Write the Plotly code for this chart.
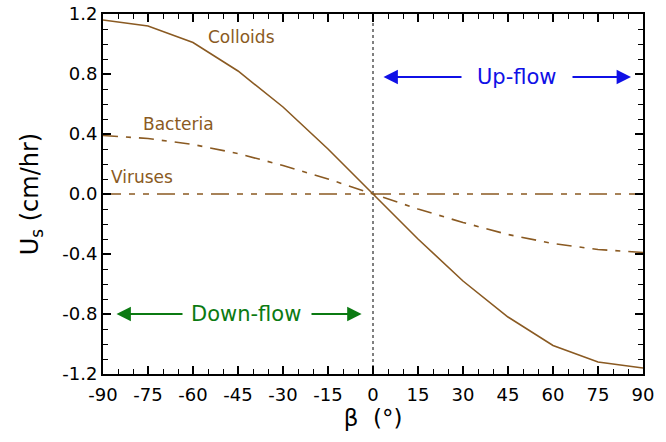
import plotly.graph_objects as go

beta = [-90, -75, -60, -45, -30, -15, 0, 15, 30, 45, 60, 75, 90]
colloids = [1.16, 1.12, 1.01, 0.82, 0.58, 0.30, 0.0, -0.30, -0.58, -0.82, -1.01, -1.12, -1.16]
bacteria = [0.39, 0.37, 0.33, 0.27, 0.19, 0.10, 0.0, -0.10, -0.19, -0.27, -0.33, -0.37, -0.39]
viruses = [0.0] * 13

x_ticks = list(range(-90, 91, 15))
x_tick_labels = [str(v) for v in x_ticks]
y_ticks = [-1.2, -0.8, -0.4, 0.0, 0.4, 0.8, 1.2]
y_tick_labels = ["-1.2", "-0.8", "-0.4", "0.0", "0.4", "0.8", "1.2"]

BROWN = "#8a5a22"
BLUE = "#1010e6"
GREEN = "#0b7a12"
FONT = "DejaVu Sans"

fig = go.Figure()
fig.add_trace(go.Scatter(x=beta, y=colloids, mode="lines",
                         line=dict(color=BROWN, width=1.6), showlegend=False))
fig.add_trace(go.Scatter(x=beta, y=bacteria, mode="lines",
                         line=dict(color=BROWN, width=1.6, dash="15px,8px,5px,8px"), showlegend=False))
fig.add_trace(go.Scatter(x=beta, y=viruses, mode="lines",
                         line=dict(color=BROWN, width=1.6, dash="18px,8px,6px,8px,6px,8px"), showlegend=False))

fig.add_shape(type="line", x0=0, x1=0, y0=-1.2, y1=1.2, xref="x", yref="y",
              line=dict(color="black", width=1, dash="dot"), layer="below")

anns = []
for txt, xx, yy in [("Colloids", -44, 1.05), ("Bacteria", -65, 0.47), ("Viruses", -77, 0.115)]:
    anns.append(dict(x=xx, y=yy, text=txt, showarrow=False, xref="x", yref="y",
                     font=dict(family=FONT, size=17, color=BROWN)))

anns.append(dict(x=48, y=0.78, text="Up-flow", showarrow=False, xref="x", yref="y",
                 font=dict(family=FONT, size=21, color=BLUE)))
anns.append(dict(x=3.5, y=0.78, ax=30, ay=0.78, axref="x", ayref="y", xref="x", yref="y",
                 text="", showarrow=True, arrowhead=2, arrowsize=1.6, arrowwidth=1.8, arrowcolor=BLUE))
anns.append(dict(x=86, y=0.78, ax=66, ay=0.78, axref="x", ayref="y", xref="x", yref="y",
                 text="", showarrow=True, arrowhead=2, arrowsize=1.6, arrowwidth=1.8, arrowcolor=BLUE))

anns.append(dict(x=-42.5, y=-0.8, text="Down-flow", showarrow=False, xref="x", yref="y",
                 font=dict(family=FONT, size=21, color=GREEN)))
anns.append(dict(x=-85.5, y=-0.8, ax=-63, ay=-0.8, axref="x", ayref="y", xref="x", yref="y",
                 text="", showarrow=True, arrowhead=2, arrowsize=1.6, arrowwidth=1.8, arrowcolor=GREEN))
anns.append(dict(x=-3.8, y=-0.8, ax=-21, ay=-0.8, axref="x", ayref="y", xref="x", yref="y",
                 text="", showarrow=True, arrowhead=2, arrowsize=1.6, arrowwidth=1.8, arrowcolor=GREEN))

fig.update_layout(
    width=666, height=442,
    margin=dict(l=103, r=23, t=14, b=68),
    paper_bgcolor="white", plot_bgcolor="white",
    font=dict(family=FONT, size=18, color="black"),
    annotations=anns,
    xaxis=dict(range=[-90, 90], tickmode="array", tickvals=x_ticks, ticktext=x_tick_labels,
               ticks="inside", ticklen=8, tickwidth=1.5, tickcolor="black",
               minor=dict(ticks="inside", ticklen=5, tickwidth=1.2, tickcolor="black", dtick=5, showgrid=False),
               showline=True, linewidth=2, linecolor="black", mirror="ticks",
               showgrid=False, zeroline=False, automargin=False, ticklabelstandoff=3,
               tickfont=dict(family=FONT, size=18),
               title=dict(text="β  (°)", font=dict(family=FONT, size=23), standoff=6)),
    yaxis=dict(range=[-1.2, 1.2], tickmode="array", tickvals=y_ticks, ticktext=y_tick_labels,
               ticks="inside", ticklen=8, tickwidth=1.5, tickcolor="black",
               minor=dict(ticks="inside", ticklen=5, tickwidth=1.2, tickcolor="black", dtick=0.1, showgrid=False),
               showline=True, linewidth=2, linecolor="black", mirror="ticks",
               showgrid=False, zeroline=False, automargin=False,
               tickfont=dict(family=FONT, size=18),
               title=dict(text="U<sub>s</sub> (cm/hr)", font=dict(family=FONT, size=24), standoff=17)),
)

fig.write_html("out.html")
